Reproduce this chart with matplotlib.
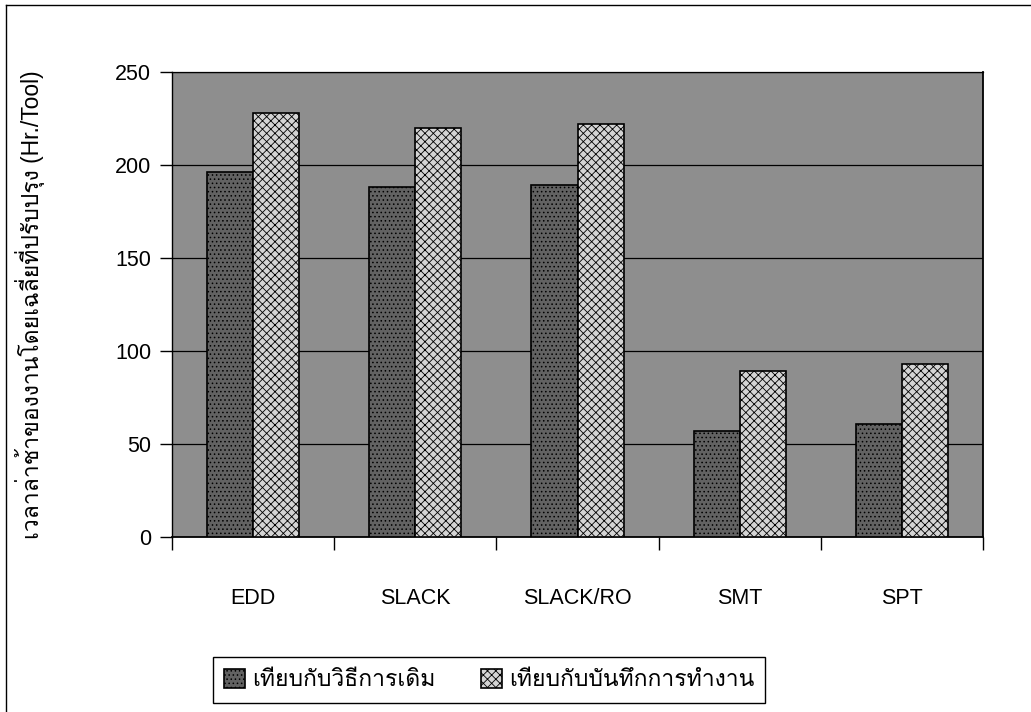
import matplotlib
matplotlib.use('Agg')
import matplotlib.pyplot as plt
import numpy as np
from matplotlib import font_manager, ft2font
from matplotlib.lines import Line2D

categories = ['EDD', 'SLACK', 'SLACK/RO', 'SMT', 'SPT']
vs_old_method = [196, 188, 189, 57, 61]
vs_work_record = [228, 220, 222, 89, 93]
series_names = ['เทียบกับวิธีการเดิม', 'เทียบกับบันทึกการทำงาน']
y_label = 'เวลาล่าช้าของงานโดยเฉลี่ยที่ปรับปรุง (Hr./Tool)'
y_ticks = [0, 50, 100, 150, 200, 250]


def find_thai_font():
    # first installed family that has Thai glyphs
    for f in font_manager.fontManager.ttflist:
        try:
            cmap = ft2font.FT2Font(f.fname).get_charmap()
        except Exception:
            continue
        if 0x0E01 in cmap and 0x0E35 in cmap:
            return f.name
    return None


thai = find_thai_font()
families = ['Liberation Sans'] + ([thai] if thai else []) + ['DejaVu Sans']
plt.rcParams['font.family'] = families
plt.rcParams['hatch.linewidth'] = 0.6

fig = plt.figure(figsize=(10.31, 7.12), dpi=100)
ax = fig.add_axes([172 / 1031, 1 - 537 / 712, (983 - 172) / 1031, (537 - 72) / 712])
ax.set_facecolor('#8e8e8e')

x = np.arange(len(categories))
w = 0.284
ax.bar(x - w / 2, vs_old_method, w, color='#626262', edgecolor='black',
       linewidth=1.2, hatch='....', label=series_names[0], zorder=3)
ax.bar(x + w / 2, vs_work_record, w, color='#d4d4d4', edgecolor='black',
       linewidth=1.2, hatch='xxxx', label=series_names[1], zorder=3)

ax.set_xlim(-0.5, len(categories) - 0.5)
ax.set_ylim(0, 250)
ax.set_yticks(y_ticks)
ax.yaxis.grid(True, color='black', linewidth=0.9, zorder=1)
ax.set_axisbelow(True)

# category labels centred, tick marks on the boundaries
ax.set_xticks(x)
ax.set_xticklabels(categories, fontsize=15.5)
ax.tick_params(axis='x', length=0, pad=37)
ax.set_xticks(np.arange(len(categories) + 1) - 0.5, minor=True)
ax.tick_params(axis='x', which='minor', length=9, width=1, direction='out')
ax.tick_params(axis='y', labelsize=15.5, length=9, width=1, direction='out', pad=6)

for side in ['left', 'bottom', 'top', 'right']:
    ax.spines[side].set_color('black')
ax.spines['bottom'].set_linewidth(1.3)
ax.spines['left'].set_linewidth(1.0)
ax.spines['top'].set_linewidth(0.9)
ax.spines['right'].set_linewidth(1.3)

fig.text(30 / 1031, 1 - 305 / 712, y_label, rotation=90, fontsize=16.5,
         ha='center', va='center')

leg = fig.legend(loc='upper left', bbox_to_anchor=(213 / 1031, 1 - 657 / 712),
                 ncol=2, fontsize=16.5, frameon=True, fancybox=False,
                 edgecolor='black', framealpha=1, borderpad=0.5,
                 handlelength=0.9, handleheight=0.9, handletextpad=0.3,
                 columnspacing=2.0, borderaxespad=0)
leg.get_frame().set_linewidth(1.0)

# outer frame of the chart area
fig.add_artist(Line2D([6 / 1031, 1], [1 - 5 / 712, 1 - 5 / 712], color='black', linewidth=1))
fig.add_artist(Line2D([6 / 1031, 6 / 1031], [0, 1 - 5 / 712], color='black', linewidth=1))

fig.savefig('out.png', dpi=100)
